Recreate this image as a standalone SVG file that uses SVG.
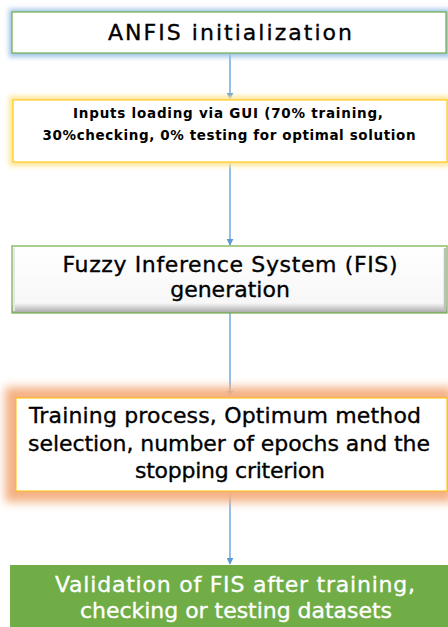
<svg xmlns="http://www.w3.org/2000/svg" width="448" height="627" viewBox="0 0 448 627">
<style>
.t{font-family:"Comic Sans MS","DejaVu Sans",sans-serif;text-anchor:middle;fill:#000;stroke:#000;stroke-width:0.35}
.big{font-size:22px}
.sm{font-size:13.5px;font-weight:bold;stroke-width:0}
.w{fill:#fff;stroke:#fff}
.conn{stroke:#5b9bd5;stroke-width:1.3;fill:none;marker-end:url(#ah)}
</style>
<defs>
<marker id="ah" viewBox="0 0 10 10" refX="9" refY="5" markerWidth="7" markerHeight="7" orient="auto" markerUnits="userSpaceOnUse">
<path d="M0,0 L10,5 L0,10 z" fill="#5b9bd5"/>
</marker>
<filter id="blur3" x="-10%" y="-50%" width="120%" height="200%"><feGaussianBlur stdDeviation="2.5"/></filter>
<filter id="blur6" x="-10%" y="-50%" width="120%" height="200%"><feGaussianBlur stdDeviation="5"/></filter>
<linearGradient id="bevel" x1="0" y1="0" x2="0" y2="1">
<stop offset="0" stop-color="#ffffff"/>
<stop offset="0.85" stop-color="#f7f7f7"/>
<stop offset="1" stop-color="#a6a6a6"/>
</linearGradient>
</defs>
<rect width="448" height="627" fill="#fff"/>
<g id="connectors">
<line class="conn" x1="230" y1="53" x2="230" y2="99"/>
<line class="conn" x1="230" y1="162" x2="230" y2="245"/>
<line class="conn" x1="230" y1="313" x2="230" y2="397"/>
<line class="conn" x1="230" y1="491" x2="230" y2="564"/>
</g>
<g id="n1">
<rect x="9" y="9" width="442" height="48" fill="#9dc3e6" filter="url(#blur3)"/>
<rect x="12" y="12" width="434" height="41" fill="#fff" stroke="#70ad47" stroke-width="1.2"/>
<text class="t big" x="230" y="40" textLength="244" lengthAdjust="spacing">ANFIS initialization</text>
</g>
<g id="n2">
<rect x="9" y="96" width="442" height="70" fill="#ffe699" filter="url(#blur3)"/>
<rect x="13" y="100" width="434" height="62" fill="#fff" stroke="#ffc000" stroke-width="1"/>
<text class="t sm" x="228" y="118" textLength="310" lengthAdjust="spacing">Inputs loading via GUI (70% training,</text>
<text class="t sm" x="229" y="140" textLength="373" lengthAdjust="spacing">30%checking, 0% testing for optimal solution</text>
</g>
<g id="n3">
<rect x="12" y="246" width="435" height="67" fill="url(#bevel)" stroke="#70ad47" stroke-width="1.2"/>
<line x1="445" y1="248" x2="445" y2="311" stroke="#bfbfbf" stroke-width="2.5"/>
<line x1="14" y1="248" x2="14" y2="311" stroke="#e6e6e6" stroke-width="2"/>
<text class="t big" x="230" y="272" textLength="335" lengthAdjust="spacing">Fuzzy Inference System (FIS)</text>
<text class="t big" x="230" y="297">generation</text>
</g>
<g id="n4">
<rect x="5" y="387" width="448" height="115" fill="#f4b183" filter="url(#blur6)"/>
<rect x="16" y="398" width="431" height="93" fill="#fff" stroke="#ffc000" stroke-width="1"/>
<text class="t big" x="225" y="423" textLength="392" lengthAdjust="spacing">Training process, Optimum method</text>
<text class="t big" x="229" y="451" textLength="402" lengthAdjust="spacing">selection, number of epochs and the</text>
<text class="t big" x="230" y="478" textLength="190" lengthAdjust="spacing">stopping criterion</text>
</g>
<g id="n5">
<rect x="10" y="565" width="438" height="62" fill="#70ad47"/>
<text class="t big w" x="235" y="592" textLength="360" lengthAdjust="spacing">Validation of FIS after training,</text>
<text class="t big w" x="236" y="618" textLength="312" lengthAdjust="spacing">checking or testing datasets</text>
</g>
</svg>
